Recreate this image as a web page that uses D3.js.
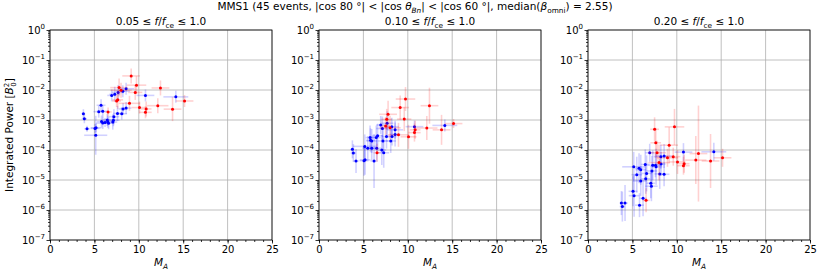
<!DOCTYPE html>
<meta charset="utf-8">
<title>Integrated power vs MA</title>
<style>
body { margin: 0; background: #fff; }
text { font-family: "DejaVu Sans", sans-serif; fill: #000; }
.tick line { stroke: #000; stroke-width: 0.8px; }
.tick text { font-size: 10px; }
.grid line { stroke: #b0b0b0; stroke-width: 0.8px; }
</style>
<body>
<script src="https://cdn.jsdelivr.net/npm/d3@7/dist/d3.min.js"></script>
<script>

// ---- data ----
var bandLo = ["0.05", "0.10", "0.20"];
var xTicks = [0, 5, 10, 15, 20, 25];
var yTicks = [1e-7, 1e-6, 1e-5, 1e-4, 1e-3, 1e-2, 1e-1, 1];

// blue events
var maBlue = [3.76, 3.87, 4.17, 5.07, 5.19, 5.15, 5.49, 5.75, 5.94, 5.8, 5.94, 6.2, 6.5, 6.6, 7.07,
              7.2, 7.14, 7.6, 8.08, 8.23, 8.57, 6.95, 7.29, 7.67, 8.2, 8.57, 10.75, 14.17, 6.45];
var maErrBlue = [0.2, 0.3, 0.3, 0.5, 0.6, 1.3, 0.6, 0.5, 0.6, 0.5, 0.7, 0.4, 0.5, 0.6, 0.5,
                 0.6, 0.7, 0.5, 0.6, 0.5, 0.6, 0.5, 0.6, 0.7, 0.8, 0.9, 1.0, 1.4, 0.5];
var powBlue1 = [1.62e-3, 1.1e-3, 5.1e-4, 5.25e-4, 5.5e-4, 3.1e-4, 1.9e-3, 3.1e-3, 1.95e-3, 8.9e-4, 7.9e-4, 8.3e-4, 8.7e-4, 7.8e-4, 8.5e-4,
                1.29e-3, 9.8e-4, 1.66e-3, 1.62e-3, 2.34e-3, 2.5e-3, 6.6e-3, 7.2e-3, 8.3e-3, 9.1e-3, 1.1e-2, 6.6e-3, 5.9e-3, 1.0e-3];
var powBlue2 = [1.05e-4, 7.9e-5, 4.3e-5, 4.4e-5, 4.7e-5, 1.32e-4, 1.15e-4, 2.6e-4, 2.0e-4, 2.1e-4, 1.15e-4, 4.3e-5, 1.15e-4, 3.0e-4, 1.0e-4,
                2.0e-4, 5.2e-4, 2.8e-4, 2.0e-4, 2.8e-4, 3.3e-4, 6.8e-4, 8.1e-5, 7.8e-4, 6.0e-4, 4.7e-4, 6.0e-4, 6.6e-4, 2.6e-4];
var powBlue3 = [1.7e-6, 1.3e-6, 1.7e-6, 4.2e-6, 3.0e-6, 2.75e-5, 1.5e-5, 2.45e-5, 2.2e-5, 1.45e-6, 9.3e-6, 2.45e-6, 1.1e-5, 1.66e-5, 7.8e-6,
                2.0e-5, 6.2e-6, 3.1e-5, 1.6e-5, 3.4e-5, 1.55e-5, 8.1e-5, 3.1e-5, 2.75e-5, 6.0e-5, 6.3e-5, 8.5e-5, 8.7e-5, 3.3e-5];
// error half-widths in decades
var errBlue1 = [0.15, 0.15, 0.1, 0.15, 0.15, 0.65, 0.2, 0.2, 0.2, 0.2, 0.2, 0.15, 0.2, 0.2, 0.25,
                0.25, 0.2, 0.25, 0.2, 0.2, 0.2, 0.2, 0.25, 0.25, 0.2, 0.2, 0.2, 0.2, 0.2];
var errBlue2 = [0.3, 0.3, 0.4, 0.5, 0.5, 0.4, 0.4, 0.4, 0.4, 0.4, 0.4, 0.9, 0.4, 0.4, 0.5,
                0.4, 0.4, 0.4, 0.4, 0.3, 0.4, 0.3, 0.5, 0.4, 0.3, 0.3, 0.2, 0.2, 0.4];
var errBlue3 = [0.4, 0.5, 0.6, 0.5, 0.7, 0.5, 0.6, 0.5, 0.5, 0.4, 0.5, 0.6, 0.5, 0.6, 0.5,
                0.5, 0.5, 0.4, 0.5, 0.4, 0.4, 0.3, 0.5, 0.6, 0.4, 0.4, 0.3, 0.3, 0.5];

// red events
var maRed = [9.14, 9.74, 9.6, 7.78, 8.0, 7.63, 7.5, 6.54, 8.95, 10.08, 10.83, 10.75, 12.14, 12.44, 13.8, 15.15];
var maErrRed = [1.0, 1.1, 0.8, 1.0, 1.2, 0.6, 0.5, 0.4, 1.2, 0.9, 0.6, 0.7, 1.2, 1.0, 1.0, 1.0];
var powRed1 = [2.95e-2, 1.45e-2, 8.3e-3, 1.2e-2, 9.8e-3, 4.7e-3, 4.3e-3, 1.86e-3, 3.6e-3, 2.6e-3, 2.34e-3, 1.8e-3, 3.0e-3, 1.17e-2, 2.3e-3, 4.3e-3];
var powRed2 = [2.6e-3, 5.0e-3, 1.07e-3, 1.55e-3, 5.5e-4, 1.05e-3, 6.3e-4, 8.1e-5, 3.2e-4, 2.75e-4, 4.7e-4, 3.8e-4, 5.4e-4, 3.0e-3, 4.7e-4, 7.6e-4];
var powRed3 = [1.45e-4, 5.9e-4, 6.0e-5, 8.1e-5, 3.8e-5, 1.74e-4, 4.9e-4, 2.1e-6, 5.5e-5, 4.0e-5, 3.5e-5, 3.0e-5, 4.6e-5, 7.6e-5, 4.3e-5, 5.5e-5];
var errRed1 = [0.25, 0.3, 0.25, 0.3, 0.25, 0.3, 0.2, 0.15, 0.25, 0.2, 0.25, 0.2, 0.25, 0.25, 0.4, 0.2];
var errRed2 = [0.4, 0.4, 0.4, 0.45, 0.4, 0.35, 0.3, 0.3, 0.4, 0.4, 0.3, 0.3, 0.4, 0.6, 0.5, 0.15];
var errRed3 = [0.6, 0.6, 0.3, 0.4, 0.6, 0.5, 0.4, 0.4, 0.3, 0.4, 0.3, 0.3, 0.8, 1.6, 0.9, 0.3];

var powBlue = [powBlue1, powBlue2, powBlue3],
    powRed = [powRed1, powRed2, powRed3],
    errBlue = [errBlue1, errBlue2, errBlue3],
    errRed = [errRed1, errRed2, errRed3];

// ---- layout ----
var W = 830, H = 277,
    lefts = [50, 319, 588],
    pw = 222, padTop = 30, ph = 210;

var svg = d3.select("body").append("svg")
    .attr("width", W)
    .attr("height", H);

// small helper for mathtext-ish strings: parts = [[text, kind], ...]
function rich(t, parts, size) {
  var shift = 0;
  parts.forEach(function(p) {
    var s = t.append("tspan").text(p[0]);
    var want = 0;
    if (p[1] == "sub" || p[1] == "subi") { want = 3; s.attr("font-size", size * 0.7); }
    if (p[1] == "sup") { want = -5; s.attr("font-size", size * 0.7); }
    if (p[1] == "i" || p[1] == "subi") s.attr("font-style", "italic");
    if (want != shift) { s.attr("dy", want - shift); shift = want; }
  });
}

var sup = svg.append("text")
    .attr("x", 415).attr("y", 10)
    .attr("text-anchor", "middle")
    .attr("font-size", 10.5);
rich(sup, [["MMS1 (45 events, |cos 80 °| < |cos ", "n"], ["θ", "i"], ["Bn", "subi"],
           ["| < |cos 60 °|, median(", "n"], ["β", "i"], ["omni", "sub"], [") = 2.55)", "n"]], 10.5);

var x = d3.scaleLinear().domain([0, 25]).range([0, pw]);
var y = d3.scaleLog().domain([1e-7, 1]).range([ph, 0]);

var minorY = [];
yTicks.slice(0, -1).forEach(function(d) {
  for (var k = 2; k < 10; k++) minorY.push(d * k);
});

lefts.forEach(function(lx, i) {
  var g = svg.append("g").attr("transform", "translate(" + lx + "," + padTop + ")");

  g.append("clipPath").attr("id", "clip" + i)
    .append("rect").attr("width", pw).attr("height", ph);

  // grid
  var grid = g.append("g").attr("class", "grid");
  grid.selectAll(".gx").data(xTicks).enter().append("line")
    .attr("x1", x).attr("x2", x).attr("y1", 0).attr("y2", ph);
  grid.selectAll(".gy").data(yTicks).enter().append("line")
    .attr("x1", 0).attr("x2", pw).attr("y1", y).attr("y2", y);

  // title
  var tt = g.append("text").attr("x", pw / 2).attr("y", -5)
    .attr("text-anchor", "middle").attr("font-size", 10.5);
  rich(tt, [[bandLo[i] + " ≤ ", "n"], ["f", "i"], ["/", "n"], ["f", "i"], ["ce", "sub"], [" ≤ 1.0", "n"]], 10.5);

  // points with error bars
  var plot = g.append("g").attr("clip-path", "url(#clip" + i + ")");
  function series(ma, maErr, pow, err, col) {
    var ev = plot.append("g").selectAll("g").data(d3.range(ma.length)).enter().append("g");
    ev.append("line")
      .attr("x1", function(j) { return x(ma[j] - maErr[j]); })
      .attr("x2", function(j) { return x(ma[j] + maErr[j]); })
      .attr("y1", function(j) { return y(pow[j]); })
      .attr("y2", function(j) { return y(pow[j]); })
      .attr("stroke", col).attr("stroke-opacity", 0.18).attr("stroke-width", 1.6);
    ev.append("line")
      .attr("x1", function(j) { return x(ma[j]); })
      .attr("x2", function(j) { return x(ma[j]); })
      .attr("y1", function(j) { return y(pow[j] * Math.pow(10, -err[j])); })
      .attr("y2", function(j) { return y(pow[j] * Math.pow(10, err[j])); })
      .attr("stroke", col).attr("stroke-opacity", 0.18).attr("stroke-width", 1.6);
    return ev;
  }
  var eb = series(maBlue, maErrBlue, powBlue[i], errBlue[i], "#0000ff");
  var er = series(maRed, maErrRed, powRed[i], errRed[i], "#ff0000");
  eb.append("circle")
    .attr("cx", function(j) { return x(maBlue[j]); })
    .attr("cy", function(j) { return y(powBlue[i][j]); })
    .attr("r", 1.5).attr("fill", "#0000ff");
  er.append("circle")
    .attr("cx", function(j) { return x(maRed[j]); })
    .attr("cy", function(j) { return y(powRed[i][j]); })
    .attr("r", 1.5).attr("fill", "#ff0000");

  // axes
  var ax = g.append("g").attr("transform", "translate(0," + ph + ")")
    .call(d3.axisBottom(x).tickValues(xTicks).tickSize(3.5).tickPadding(2).tickFormat(d3.format("d")));
  g.append("g").attr("transform", "translate(0," + ph + ")")
    .call(d3.axisBottom(x).tickValues(d3.range(0, 26)).tickSize(2).tickFormat(""))
    .select(".domain").remove();
  ax.select(".domain").remove();

  var ay = g.append("g")
    .call(d3.axisLeft(y).tickValues(yTicks).tickSize(3.5).tickPadding(2).tickFormat(""));
  ay.select(".domain").remove();
  ay.selectAll(".tick text").remove();
  ay.selectAll(".tick").each(function(d) {
    var e = Math.round(Math.log10(d));
    var t = d3.select(this).append("text")
      .attr("x", -5).attr("dy", "0.32em")
      .attr("text-anchor", "end").attr("font-size", 10);
    t.append("tspan").text("10");
    t.append("tspan").attr("dy", -4.5).attr("font-size", 7)
      .text(e < 0 ? "\u2212" + (-e) : "" + e);
  });
  g.append("g")
    .call(d3.axisLeft(y).tickValues(minorY).tickSize(2).tickFormat(""))
    .select(".domain").remove();

  g.append("rect").attr("width", pw).attr("height", ph)
    .attr("fill", "none").attr("stroke", "#000").attr("stroke-width", 0.8);

  // x label
  var xl = g.append("text").attr("x", pw / 2).attr("y", ph + 26)
    .attr("text-anchor", "middle").attr("font-size", 10.5);
  rich(xl, [["M", "i"], ["A", "subi"]], 10.5);

  if (i == 0) {
    var yl = g.append("text")
      .attr("transform", "translate(-37," + (ph / 2) + ") rotate(-90)")
      .attr("text-anchor", "middle").attr("font-size", 10.5);
    yl.append("tspan").text("Integrated Power [");
    yl.append("tspan").attr("font-style", "italic").text("B");
    yl.append("tspan").attr("font-size", 7).attr("dy", -4).text("2");
    yl.append("tspan").attr("font-size", 7).attr("dy", 7).attr("dx", -4).text("0");
    yl.append("tspan").attr("dy", -3).text("]");
  }
});

</script>
